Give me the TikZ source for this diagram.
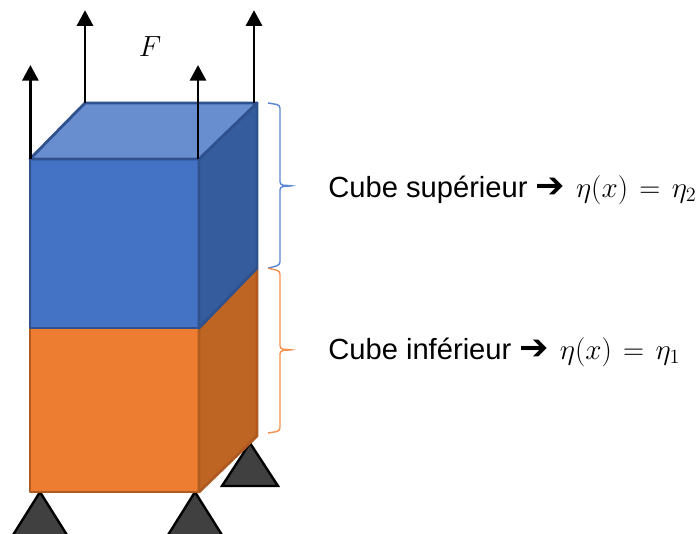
\documentclass[tikz,border=0pt]{standalone}
\usepackage{fontspec}
\setmainfont{Liberation Sans}
\newfontfamily\arrowfont{DejaVu Sans}
\usepackage{amsmath}
\usetikzlibrary{positioning,arrows.meta}
\definecolor{blueface}{HTML}{4472C4}
\definecolor{bluetop}{HTML}{698ED0}
\definecolor{blueside}{HTML}{355D9E}
\definecolor{blueedge}{HTML}{2F528F}
\definecolor{orangeface}{HTML}{ED7D31}
\definecolor{orangeside}{HTML}{BE6524}
\definecolor{orangeedge}{HTML}{AE5A21}
\definecolor{bluebrace}{HTML}{5B86D4}
\definecolor{orangebrace}{HTML}{F4914D}
\begin{document}
\begin{tikzpicture}[
  every node/.style={font=\huge,inner sep=0pt},
  force/.style={-{Triangle[length=0.39cm,width=0.4cm]},line width=2pt,black},
  support/.style={draw=black,fill=black!75,line width=1.7pt,line join=miter},
  bluecube/.style={draw=blueedge,line width=2pt,line join=round},
  orangecube/.style={draw=orangeedge,line width=2pt,line join=round},
  curly/.style={line width=1pt,rounded corners=0.08cm}
]
\useasboundingbox (0,0) rectangle (17.5,13.325);

% appuis
\draw[support] (1,1.025) -- (0.3,-0.09) -- (1.7,-0.09) -- cycle;
\draw[support] (4.875,1.025) -- (4.175,-0.09) -- (5.575,-0.09) -- cycle;
\draw[support] (6.25,2.25) -- (5.55,1.175) -- (6.95,1.175) -- cycle;

% cube inferieur
\draw[orangecube,fill=orangeface] (0.75,1.025) rectangle (4.975,5.125);
\draw[orangecube,fill=orangeside] (4.975,1.025) -- (6.425,2.425)
  -- (6.425,6.625) -- (4.975,5.125) -- cycle;

% cube superieur
\draw[bluecube,fill=blueface] (0.75,5.125) rectangle (4.975,9.35);
\draw[bluecube,fill=blueside] (4.975,5.125) -- (6.425,6.625)
  -- (6.425,10.75) -- (4.975,9.35) -- cycle;
\draw[bluecube,fill=bluetop] (0.75,9.35) -- (2.125,10.75)
  -- (6.425,10.75) -- (4.975,9.35) -- cycle;

% efforts
\coordinate (footA) at (0.76,9.35);
\coordinate (footB) at (2.125,10.75);
\coordinate (footC) at (4.95,9.35);
\coordinate (footD) at (6.35,10.75);
\coordinate (headA) at (0.76,11.7);
\coordinate (headB) at (2.125,13.07);
\coordinate (headC) at (4.95,11.7);
\coordinate (headD) at (6.35,13.07);
\draw[force] (footA) -- (headA);
\draw[force] (footB) -- (headB);
\draw[force] (footC) -- (headC);
\draw[force] (footD) -- (headD);
\node (force) at (3.75,12.15) {$F$};

% accolades
\draw[curly,draw=bluebrace] (6.7,10.75) -- (7,10.7) -- (7,8.7)
  -- (7.33,8.68) -- (7,8.66) -- (7,6.7) -- (6.7,6.62);
\draw[curly,draw=orangebrace] (6.7,6.62) -- (7,6.55) -- (7,4.6)
  -- (7.33,4.58) -- (7,4.56) -- (7,2.55) -- (6.7,2.5);

% textes
\node[anchor=base west] (upper) at (8.2,8.4)
  {Cube supérieur {\arrowfont\fontsize{25}{25}\selectfont ➔}
  \hspace{2pt}$\thickmuskip=7mu \eta(x) = \eta_2$};
\node[anchor=base west] (lower) at (8.2,4.35)
  {Cube inférieur {\arrowfont\fontsize{25}{25}\selectfont ➔}
  \hspace{2pt}$\thickmuskip=7mu \eta(x) = \eta_1$};
\end{tikzpicture}
\end{document}
